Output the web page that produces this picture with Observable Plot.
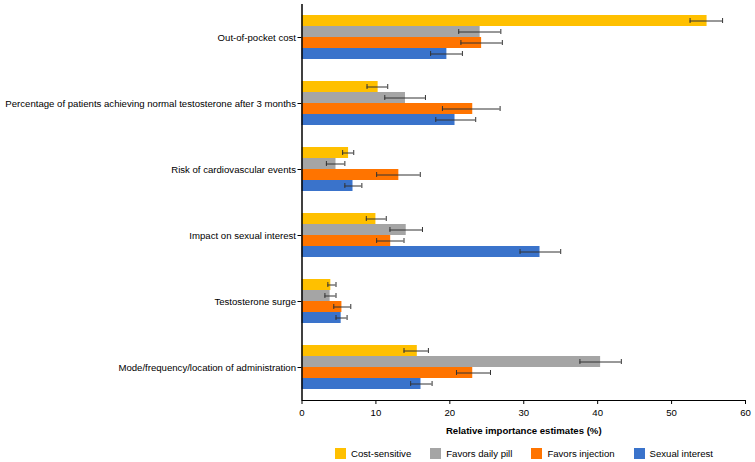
<!DOCTYPE html>
<html>
<head>
<meta charset="utf-8">
<script src="https://cdn.jsdelivr.net/npm/d3@7"></script>
<script src="https://cdn.jsdelivr.net/npm/@observablehq/plot@0.6"></script>
<style>
  body { margin: 0; background: #fff; font-family: 'Liberation Sans', Arial, sans-serif; }
  #legend { display: flex; align-items: center; padding-left: 335px; margin-top: 8px; font-size: 9.6px; color: #000; }
  #legend .item { display: flex; align-items: center; margin-right: 19px; }
  #legend .sw { width: 11px; height: 11px; margin-right: 5px; }
</style>
</head>
<body>
<div id="chart"></div>
<div id="legend"></div>
<script>
const categories = [
  "Out-of-pocket cost",
  "Percentage of patients achieving normal testosterone after 3 months",
  "Risk of cardiovascular events",
  "Impact on sexual interest",
  "Testosterone surge",
  "Mode/frequency/location of administration"
];
const series = ["Cost-sensitive", "Favors daily pill", "Favors injection", "Sexual interest"];
const colors = ["#FFC000", "#A5A5A5", "#FF7400", "#3A73CB"];
const xTicks = [0, 10, 20, 30, 40, 50, 60];
const xLabel = "Relative importance estimates (%)";

const costSensitive     = [54.8, 10.3, 6.3, 10.0, 3.9, 15.6];
const costSensitiveLow  = [52.5,  8.8, 5.5,  8.7, 3.5, 13.8];
const costSensitiveHigh = [56.9, 11.6, 7.0, 11.4, 4.6, 17.1];

const dailyPill     = [24.1, 14.0, 4.6, 14.1, 3.8, 40.4];
const dailyPillLow  = [21.2, 11.2, 3.3, 11.9, 3.1, 37.6];
const dailyPillHigh = [26.9, 16.7, 5.8, 16.3, 4.6, 43.2];

const injection     = [24.3, 23.1, 13.1, 12.0, 5.4, 23.1];
const injectionLow  = [21.5, 19.0, 10.1, 10.1, 4.3, 20.9];
const injectionHigh = [27.1, 26.8, 16.0, 13.8, 6.6, 25.5];

const sexualInterest     = [19.6, 20.7, 6.9, 32.2, 5.3, 16.1];
const sexualInterestLow  = [17.4, 18.1, 5.8, 29.5, 4.6, 14.7];
const sexualInterestHigh = [21.7, 23.5, 8.1, 35.0, 6.1, 17.6];

const seriesValues = [
  [costSensitive, costSensitiveLow, costSensitiveHigh],
  [dailyPill, dailyPillLow, dailyPillHigh],
  [injection, injectionLow, injectionHigh],
  [sexualInterest, sexualInterestLow, sexualInterestHigh]
];

const table = [];
categories.forEach((c, i) => {
  series.forEach((s, j) => {
    const [v, lo, hi] = seriesValues[j];
    table.push({category: c, series: s, value: v[i], low: lo[i], high: hi[i]});
  });
});

const chart = Plot.plot({
  width: 755,
  height: 440,
  marginLeft: 301.5,
  marginRight: 10,
  marginTop: 4,
  marginBottom: 40,
  style: {fontFamily: "'Liberation Sans', Arial, sans-serif", fontSize: "9.6px", color: "#000", background: "#fff"},
  x: {domain: [0, 60], ticks: xTicks, line: true, label: xLabel, labelAnchor: "center", labelArrow: "none", labelOffset: 33, tickSize: 4},
  y: {domain: series, axis: null, paddingInner: 0, paddingOuter: 0.87},
  fy: {domain: categories, padding: 0, axis: "left", label: null, tickSize: 4, tickPadding: 2},
  color: {domain: series, range: colors},
  marks: [
    Plot.barX(table, {x: "value", y: "series", fy: "category", fill: "series"}),
    Plot.ruleY(table, {y: "series", fy: "category", x1: "low", x2: "high", stroke: "#333", strokeWidth: 1}),
    Plot.tickX(table, {x: "low", y: "series", fy: "category", stroke: "#333", insetTop: 3, insetBottom: 3}),
    Plot.tickX(table, {x: "high", y: "series", fy: "category", stroke: "#333", insetTop: 3, insetBottom: 3}),
    Plot.ruleX([0], {stroke: "#000", strokeWidth: 1.5})
  ]
});

d3.select(chart).selectAll("text")
  .filter(function() { return this.textContent.startsWith("Relative"); })
  .attr("font-weight", "bold")
  .each(function() {
    const t = d3.select(this);
    if (t.selectAll("tspan").empty()) t.text(xLabel);
    else t.selectAll("tspan").each(function() {
      this.textContent = this.textContent.replace(/\s*→/, "");
    });
  });

document.getElementById("chart").appendChild(chart);

const legend = d3.select("#legend");
series.forEach((s, j) => {
  const item = legend.append("div").attr("class", "item");
  item.append("div").attr("class", "sw").style("background", colors[j]);
  item.append("span").text(s);
});
</script>
</body>
</html>
